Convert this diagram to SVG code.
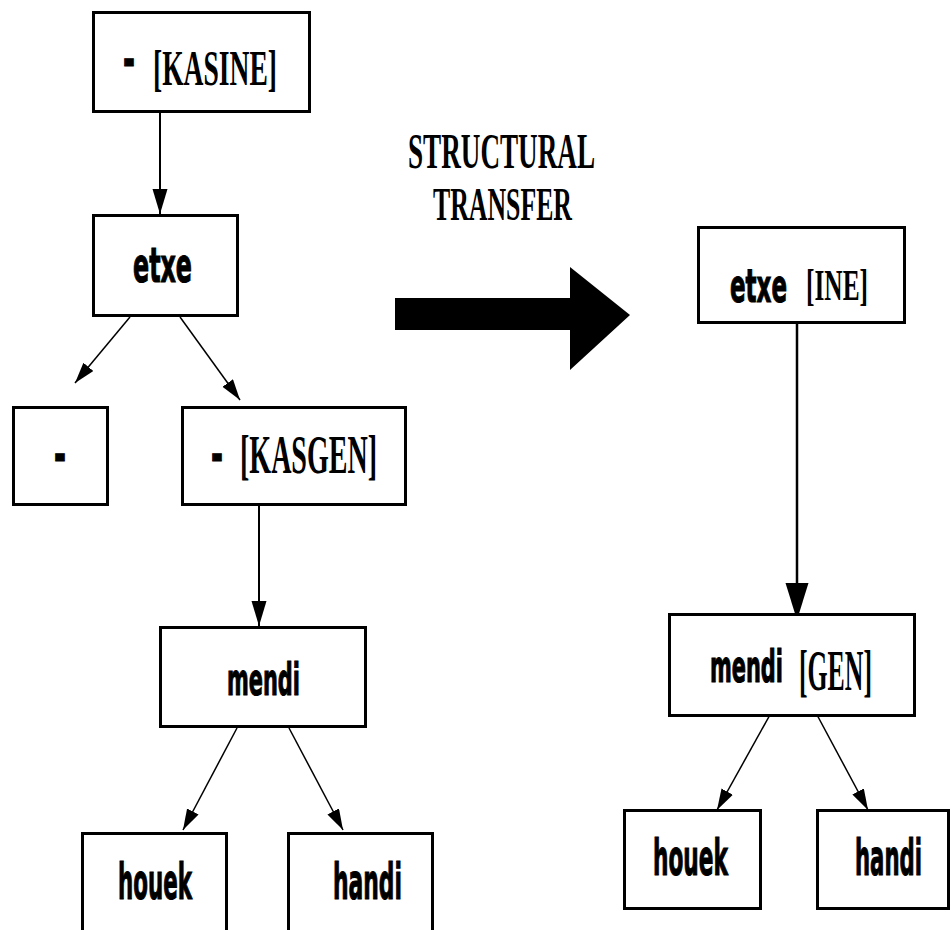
<svg xmlns="http://www.w3.org/2000/svg" width="951" height="930" viewBox="0 0 951 930">
  <style>
    .box { fill: #fff; stroke: #000; stroke-width: 3; }
    .sans { font-family: "DejaVu Sans", "Liberation Sans", sans-serif; font-weight: bold; fill: #000; stroke: #000; stroke-width: 1.2; }
    .serif { font-family: "Liberation Serif", "DejaVu Serif", serif; font-weight: bold; fill: #000; }
    .dash { font-family: "Liberation Sans", "DejaVu Sans", sans-serif; font-weight: bold; font-size: 62px; fill: #000; stroke: #000; stroke-width: 1; }
    .edge { stroke: #000; stroke-width: 2; fill: none; marker-end: url(#head); }
    .diag { stroke: #000; stroke-width: 1.5; fill: none; marker-end: url(#headSmall); }
    .edgeBig { stroke: #000; stroke-width: 2.5; fill: none; marker-end: url(#headBig); }
  </style>
  <defs>
    <marker id="head" markerUnits="userSpaceOnUse" markerWidth="26" markerHeight="16" refX="25" refY="7.5" orient="auto">
      <path d="M0,0 L25,7.5 L0,15 Z" fill="#000"/>
    </marker>
    <marker id="headSmall" markerUnits="userSpaceOnUse" markerWidth="22" markerHeight="14" refX="21" refY="6.5" orient="auto">
      <path d="M0,0 L21,6.5 L0,13 Z" fill="#000"/>
    </marker>
    <marker id="headBig" markerUnits="userSpaceOnUse" markerWidth="38" markerHeight="24" refX="37" refY="11.5" orient="auto">
      <path d="M0,0 L37,11.5 L0,23 Z" fill="#000"/>
    </marker>
  </defs>

  <rect width="951" height="930" fill="#fff"/>

  <!-- connectors -->
  <g id="connectors">
    <line class="edge" x1="160" y1="112" x2="160" y2="214"/>
    <line class="diag" x1="130" y1="317" x2="75" y2="383"/>
    <line class="diag" x1="180" y1="317" x2="240" y2="400"/>
    <line class="edge" x1="259" y1="506" x2="259" y2="626"/>
    <line class="diag" x1="237" y1="728" x2="183" y2="830"/>
    <line class="diag" x1="289" y1="728" x2="343" y2="830"/>
    <line class="edgeBig" x1="797" y1="315" x2="797" y2="620"/>
    <line class="diag" x1="771" y1="713" x2="717" y2="810"/>
    <line class="diag" x1="816" y1="713" x2="868" y2="810"/>
  </g>

  <!-- transfer arrow and caption -->
  <g id="transfer">
    <polygon points="395,298 570,298 570,267 630,315 570,370 570,330 395,330" fill="#000"/>
    <text class="serif" x="408" y="168" font-size="50" textLength="187" lengthAdjust="spacingAndGlyphs">STRUCTURAL</text>
    <text class="serif" x="433" y="220" font-size="46" textLength="139" lengthAdjust="spacingAndGlyphs">TRANSFER</text>
  </g>

  <!-- source tree -->
  <g id="src-kasine">
    <rect class="box" x="93.5" y="12.5" width="216" height="99"/>
    <text class="dash" x="123" y="78" textLength="12" lengthAdjust="spacingAndGlyphs">-</text>
    <text class="serif" x="153" y="85" font-size="50" textLength="124" lengthAdjust="spacingAndGlyphs">[KASINE]</text>
  </g>
  <g id="src-etxe">
    <rect class="box" x="93.5" y="215.5" width="144" height="100"/>
    <text class="sans" x="133" y="282" font-size="48" textLength="59" lengthAdjust="spacingAndGlyphs">etxe</text>
  </g>
  <g id="src-empty">
    <rect class="box" x="13.5" y="407.5" width="94" height="97"/>
    <text class="dash" x="54" y="473" textLength="12" lengthAdjust="spacingAndGlyphs">-</text>
  </g>
  <g id="src-kasgen">
    <rect class="box" x="182.5" y="407.5" width="223" height="97"/>
    <text class="dash" x="211" y="473" textLength="12" lengthAdjust="spacingAndGlyphs">-</text>
    <text class="serif" x="240" y="473" font-size="55" textLength="137" lengthAdjust="spacingAndGlyphs">[KASGEN]</text>
  </g>
  <g id="src-mendi">
    <rect class="box" x="160.5" y="627.5" width="205" height="99"/>
    <text class="sans" x="227" y="695" font-size="44" textLength="73" lengthAdjust="spacingAndGlyphs">mendi</text>
  </g>
  <g id="src-houek">
    <rect class="box" x="82.5" y="833.5" width="144" height="120"/>
    <text class="sans" x="118" y="899" font-size="50" textLength="74" lengthAdjust="spacingAndGlyphs">houek</text>
  </g>
  <g id="src-handi">
    <rect class="box" x="288.5" y="833.5" width="144" height="120"/>
    <text class="sans" x="333" y="899" font-size="50" textLength="69" lengthAdjust="spacingAndGlyphs">handi</text>
  </g>

  <!-- target tree -->
  <g id="tgt-etxe">
    <rect class="box" x="698.5" y="227.5" width="206" height="95"/>
    <text class="sans" x="730" y="302" font-size="46" textLength="57" lengthAdjust="spacingAndGlyphs">etxe</text>
    <text class="serif" x="806" y="300" font-size="44" textLength="62" lengthAdjust="spacingAndGlyphs">[INE]</text>
  </g>
  <g id="tgt-mendi">
    <rect class="box" x="669.5" y="614.5" width="245" height="101"/>
    <text class="sans" x="710" y="682" font-size="44" textLength="73" lengthAdjust="spacingAndGlyphs">mendi</text>
    <text class="serif" x="799" y="690" font-size="58" textLength="73" lengthAdjust="spacingAndGlyphs">[GEN]</text>
  </g>
  <g id="tgt-houek">
    <rect class="box" x="624.5" y="810.5" width="136" height="98"/>
    <text class="sans" x="653" y="875" font-size="50" textLength="75" lengthAdjust="spacingAndGlyphs">houek</text>
  </g>
  <g id="tgt-handi">
    <rect class="box" x="817.5" y="810.5" width="131" height="98"/>
    <text class="sans" x="855" y="875" font-size="50" textLength="67" lengthAdjust="spacingAndGlyphs">handi</text>
  </g>
</svg>
